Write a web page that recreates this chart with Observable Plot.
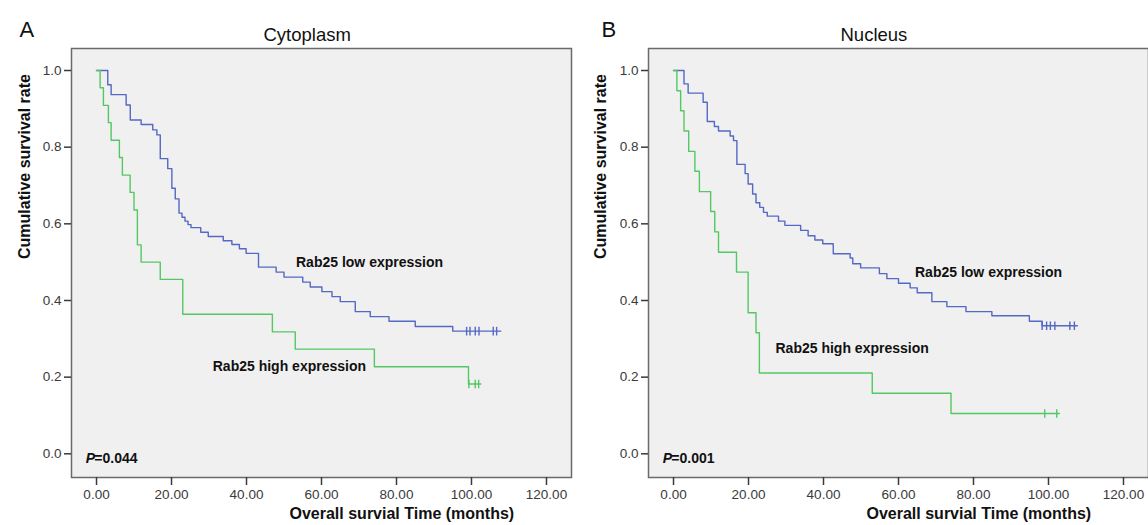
<!DOCTYPE html>
<html><head><meta charset="utf-8">
<script src="https://cdn.jsdelivr.net/npm/d3@7"></script>
<script src="https://cdn.jsdelivr.net/npm/@observablehq/plot@0.6"></script>
<style>
html,body{margin:0;padding:0;background:#fff;}
body{width:1148px;height:525px;overflow:hidden;font-family:"Liberation Sans",Arial,sans-serif;}
#wrap{display:flex;align-items:flex-start;}
svg{display:block;}
</style></head>
<body><div id="wrap"><div id="a"></div><div id="b"></div></div>
<script>
// ---- shared tick values ----
const xTicks = [0, 20, 40, 60, 80, 100, 120];
const yTicks = [0, 0.2, 0.4, 0.6, 0.8, 1.0];

// ---- Panel A: Cytoplasm ----
const cytoLowTime = [0, 3, 3.9, 7.9, 9, 11.9, 15, 16.1, 17, 19, 20.1, 21, 22, 22.8, 23.6, 24.4, 25.2, 27.8, 29.8, 33.8, 36.1, 38.1, 39.9, 43.2, 47.9, 50, 55, 57, 60.1, 62.8, 65, 69, 73, 78, 85, 95, 107.8];
const cytoLowSurv = [1.0, 0.963, 0.937, 0.910, 0.871, 0.859, 0.845, 0.832, 0.770, 0.744, 0.693, 0.665, 0.628, 0.617, 0.607, 0.598, 0.590, 0.578, 0.567, 0.556, 0.546, 0.535, 0.523, 0.487, 0.474, 0.461, 0.448, 0.435, 0.423, 0.410, 0.397, 0.371, 0.358, 0.346, 0.332, 0.320, 0.320];
const cytoLowCensor = [98.7, 99.6, 101, 102, 105.8, 106.7];
const cytoLowCensorSurv = 0.320;

const cytoHighTime = [0, 0.96, 1.84, 3.17, 3.89, 6.1, 6.9, 8.96, 10.0, 10.9, 11.9, 17, 23, 46.9, 53, 74.1, 99.2, 102.5];
const cytoHighSurv = [1.0, 0.955, 0.909, 0.864, 0.818, 0.773, 0.727, 0.682, 0.636, 0.545, 0.5, 0.455, 0.364, 0.318, 0.273, 0.227, 0.182, 0.182];
const cytoHighCensor = [99.3, 101, 101.9];
const cytoHighCensorSurv = 0.182;

// ---- Panel B: Nucleus ----
const nucLowTime = [0, 2.8, 3.9, 7.9, 9, 10.9, 12, 15.1, 16, 16.9, 19.1, 19.9, 21.1, 22, 23, 24, 25, 28, 29.7, 33.9, 35.9, 37.7, 39.8, 42.6, 47.1, 47.8, 49.9, 54.9, 56.9, 60, 63.1, 65, 68.9, 72.9, 78, 84.9, 94.9, 98.3, 107.7];
const nucLowSurv = [1.0, 0.965, 0.941, 0.917, 0.867, 0.854, 0.842, 0.829, 0.817, 0.755, 0.731, 0.704, 0.678, 0.655, 0.643, 0.630, 0.620, 0.607, 0.596, 0.583, 0.569, 0.558, 0.548, 0.522, 0.511, 0.496, 0.485, 0.470, 0.457, 0.445, 0.433, 0.420, 0.397, 0.384, 0.371, 0.360, 0.346, 0.334, 0.334];
const nucLowCensor = [98.3, 99.5, 100.5, 101.7, 105.7, 106.9];
const nucLowCensorSurv = 0.334;

const nucHighTime = [0, 0.9, 1.9, 2.8, 4.05, 5.7, 6.9, 9.9, 11, 12, 16.8, 19.9, 22, 22.9, 53, 74, 102.9];
const nucHighSurv = [1.0, 0.947, 0.895, 0.842, 0.789, 0.737, 0.684, 0.632, 0.579, 0.526, 0.474, 0.368, 0.316, 0.211, 0.158, 0.105, 0.105];
const nucHighCensor = [99, 102.2];
const nucHighCensorSurv = 0.105;

// ---- texts ----
const panelLetters = ["A", "B"];
const panelTitles = ["Cytoplasm", "Nucleus"];
const pValues = ["=0.044", "=0.001"];
const seriesNames = ["Rab25 low expression", "Rab25 high expression"];
const xLabel = "Overall survial Time (months)";
const yLabel = "Cumulative survival rate";

const BLUE = "#5468c4";
const GREEN = "#52c862";

const vbar = {draw(context, size) {
  const h = Math.sqrt(size / Math.PI);
  context.moveTo(0, -h);
  context.lineTo(0, h);
}};

function rows(t, s) { return t.map((d, i) => ({t: d, s: s[i]})); }
function cens(t, s) { return t.map(d => ({t: d, s})); }

function panel(o) {
  const svg = Plot.plot({
    width: o.width, height: 525,
    marginLeft: 71, marginRight: o.marginRight, marginTop: 48, marginBottom: 48,
    x: {domain: [-6.67, 126.67]},
    y: {domain: [-0.0618, 1.0574]},
    style: {fontFamily: "'Liberation Sans', Arial, sans-serif", fontSize: "14px", background: "transparent", overflow: "visible", color: "#111"},
    marks: [
      Plot.frame({fill: "#f0f0f0", stroke: "#6a6a6a", strokeWidth: 1.5}),
      Plot.axisX({ticks: xTicks, tickFormat: d => d.toFixed(2), tickSize: 8, tickPadding: 4, label: null, color: "#3a3a3a", strokeWidth: 1.5}),
      Plot.axisY({ticks: yTicks, tickFormat: d => d.toFixed(1), tickSize: 7, tickPadding: 3, label: null, color: "#3a3a3a", strokeWidth: 1.5}),
      Plot.line(o.low, {x: "t", y: "s", curve: "step-after", stroke: BLUE, strokeWidth: 1.4}),
      Plot.line(o.high, {x: "t", y: "s", curve: "step-after", stroke: GREEN, strokeWidth: 1.4}),
      Plot.dot(o.lowC, {x: "t", y: "s", symbol: vbar, r: 4.3, stroke: BLUE, strokeWidth: 1.4, fill: "none"}),
      Plot.dot(o.highC, {x: "t", y: "s", symbol: vbar, r: 4.3, stroke: GREEN, strokeWidth: 1.4, fill: "none"}),
      Plot.text([seriesNames[0]], {x: o.lowLab[0], y: o.lowLab[1], textAnchor: "start", fontWeight: "bold", fontSize: 14, fill: "#111"}),
      Plot.text([seriesNames[1]], {x: o.highLab[0], y: o.highLab[1], textAnchor: "start", fontWeight: "bold", fontSize: 14, fill: "#111"}),
      Plot.text(["P"], {x: -2.85, y: -0.012, textAnchor: "start", fontStyle: "italic", fontWeight: "bold", fontSize: 14, fill: "#111"}),
      Plot.text([o.p], {x: -2.85, y: -0.012, dx: 8.5, textAnchor: "start", fontWeight: "bold", fontSize: 14, fill: "#111"}),
      Plot.text([o.letter], {frameAnchor: "top-left", dx: o.letterDx, dy: -27, fontSize: 22, fill: "#111"}),
      Plot.text([o.title], {frameAnchor: "top-left", dx: 192, dy: -21, fontSize: 18.5, fill: "#111"}),
      Plot.text([yLabel], {frameAnchor: "left", dx: o.yLabDx, dy: -4, rotate: -90, fontSize: 16, fontWeight: "bold", fill: "#111"}),
      Plot.text([xLabel], {frameAnchor: "bottom-left", dx: 218, dy: 41, fontSize: 16, fontWeight: "bold", fill: "#111"})
    ]
  });
  // enlarge axis tick labels
  d3.select(svg).selectAll('g[aria-label$="tick label"]').attr("font-size", 13.5).selectAll("text").attr("font-size", 13.5);
  return svg;
}

document.getElementById("a").appendChild(panel({
  width: 577, marginRight: 6,
  low: rows(cytoLowTime, cytoLowSurv), high: rows(cytoHighTime, cytoHighSurv),
  lowC: cens(cytoLowCensor, cytoLowCensorSurv), highC: cens(cytoHighCensor, cytoHighCensorSurv),
  lowLab: [53.2, 0.499], highLab: [31.0, 0.228],
  p: pValues[0], letter: panelLetters[0], title: panelTitles[0], letterDx: -52, yLabDx: -47
}));
document.getElementById("b").appendChild(panel({
  width: 571, marginRight: 0,
  low: rows(nucLowTime, nucLowSurv), high: rows(nucHighTime, nucHighSurv),
  lowC: cens(nucLowCensor, nucLowCensorSurv), highC: cens(nucHighCensor, nucHighCensorSurv),
  lowLab: [64.4, 0.473], highLab: [27.2, 0.274],
  p: pValues[1], letter: panelLetters[1], title: panelTitles[1], letterDx: -47, yLabDx: -48
}));
</script>
</body></html>
